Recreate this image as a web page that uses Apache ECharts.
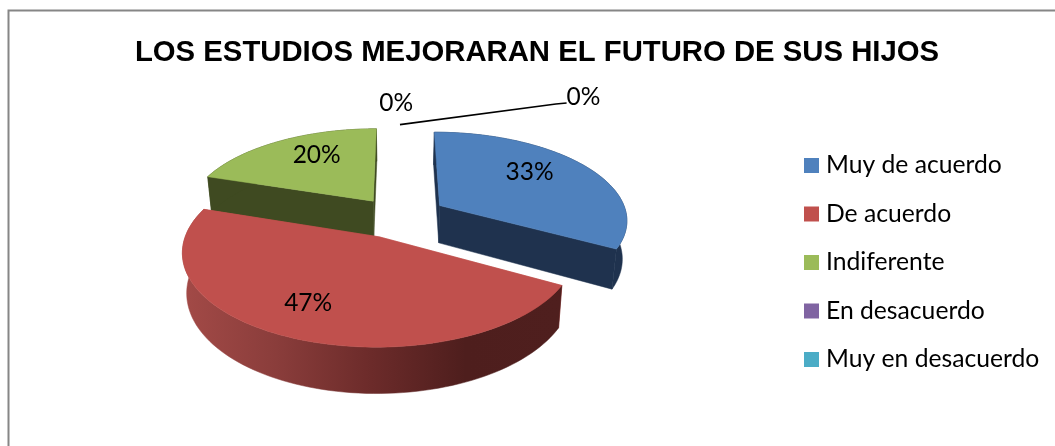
<!DOCTYPE html>
<html><head><meta charset="utf-8">
<style>html,body{margin:0;padding:0;background:#fff}#c{width:1055px;height:446px}</style>
<script src="https://cdn.jsdelivr.net/npm/echarts@6/dist/echarts.min.js"></script>
</head><body><div id="c"></div>
<script>
const chartTitle = 'LOS ESTUDIOS MEJORARAN EL FUTURO DE SUS HIJOS';
const categories = ['Muy de acuerdo', 'De acuerdo', 'Indiferente', 'En desacuerdo', 'Muy en desacuerdo'];
const seriesValues = [33, 47, 20, 0, 0];
const topColors = ['#4f81bd', '#c0504d', '#9bbb59', '#8064a2', '#4bacc6'];
const wallColors = ['#1f324e', '#c0504d', '#3f4a21', '#3a2d4c', '#1f4a56'];
const paintOrder = [2, 0, 1, 3, 4];
const explodeBy = [.262, .24, .23, .24, .24];
// label anchor: [bearing in degrees, distance from slice apex in radii]
const labelPolar = [[51.5, .68], [206.6, .718], [330, .696], [359.5, 1.367], [39.9, 1.93]];
const leaderPolar = [[.7, 1.013], [37.4, 1.71], [38.9, 1.77]];

// projection of the tilted pie
const CX = 398, CY = 217, K = 188, KY = 87.4, PERSP = .148, DEPTH = 38, BASE_SHRINK = .98;
const total = seriesValues.reduce((a, b) => a + b, 0);
const rad = d => d * Math.PI / 180;
const project = (X, Y) => {
  const w = 1 - PERSP * Y;
  return { x: CX + K * X / w, y: CY + KY * Y / w, w };
};
const top3 = (X, Y) => { const p = project(X, Y); return [p.x, p.y]; };
const base3 = (X, Y) => {
  const p = project(X, Y);
  return [CX + BASE_SHRINK * (p.x - CX), p.y + DEPTH / p.w];
};
const redWall = new echarts.graphic.LinearGradient(182, 0, 560, 0, [
  { offset: 0, color: '#a34a47' }, { offset: .25, color: '#8a3d3b' },
  { offset: .5, color: '#6c2b2a' }, { offset: .75, color: '#4e1e1d' }, { offset: 1, color: '#4f1f1e' }
], true);

function sliceRenderer(idx) {
  return function (params, api) {
    const value = api.value(0);
    const before = seriesValues.slice(0, idx).reduce((a, b) => a + b, 0);
    const a1 = before / total * 360, a2 = (before + value) / total * 360, m = (a1 + a2) / 2;
    const ox = explodeBy[idx] * Math.sin(rad(m)), oy = -explodeBy[idx] * Math.cos(rad(m));
    const pt = (a, r) => [ox + r * Math.sin(rad(a)), oy - r * Math.cos(rad(a))];
    const children = [];
    if (value > 0) {
      const wall = idx === 1 ? redWall : wallColors[idx];
      const rimPts = [];
      for (let i = 0; i <= 90; i++) rimPts.push(pt(a1 + (a2 - a1) * i / 90, 1));
      const apex = pt(0, 0);
      const poly = (pts, fill) => children.push({ type: 'polygon', shape: { points: pts }, style: { fill, stroke: fill, lineWidth: .5 }, silent: true });
      const flat = wallColors[idx];
      poly([top3(...apex), top3(...rimPts[0]), base3(...rimPts[0]), base3(...apex)], flat);
      poly([top3(...apex), top3(...rimPts[90]), base3(...rimPts[90]), base3(...apex)], flat);
      poly(rimPts.map(p => top3(...p)).concat(rimPts.slice().reverse().map(p => base3(...p))), wall);
      poly([top3(...apex)].concat(rimPts.map(p => top3(...p))), api.visual('color'));
    }
    const [lb, lr] = labelPolar[idx];
    const lp = top3(...pt(lb, lr));
    if (idx === 4) {
      children.push({ type: 'polyline', shape: { points: leaderPolar.map(([b, r]) => top3(...pt(b, r))) }, style: { stroke: '#000', lineWidth: 1.6, fill: null }, silent: true });
    }
    children.push({ type: 'text', style: { text: Math.round(value / total * 100) + '%', x: lp[0], y: lp[1], align: 'center', verticalAlign: 'middle', fill: '#000', font: '24.5px Lato' }, silent: true });
    return { type: 'group', children };
  };
}

const chart = echarts.init(document.getElementById('c'), null, { renderer: 'canvas' });
chart.setOption({
  animation: false,
  backgroundColor: '#fff',
  title: { text: chartTitle, left: 532, top: 33, textAlign: 'center',
    textStyle: { fontFamily: 'Liberation Sans', fontWeight: 'bold', fontSize: 29.3, color: '#000' } },
  legend: { orient: 'vertical', left: 799, top: 148, itemWidth: 15, itemHeight: 15, itemGap: 23.5, icon: 'rect',
    data: categories, selectedMode: false,
    textStyle: { fontFamily: 'Lato', fontSize: 24.7, color: '#000', padding: [0, 0, 0, 2] } },
  graphic: [{ type: 'polyline', silent: true, shape: { points: [[8.5, 446], [8.5, 10.5], [1055, 10.5]] },
    style: { stroke: '#868686', lineWidth: 2, fill: null } }],
  series: categories.map((name, i) => ({
    type: 'custom', name, coordinateSystem: 'none', z: 2 + paintOrder.indexOf(i),
    itemStyle: { color: topColors[i] },
    data: [[seriesValues[i]]],
    renderItem: sliceRenderer(i)
  }))
});
</script></body></html>
